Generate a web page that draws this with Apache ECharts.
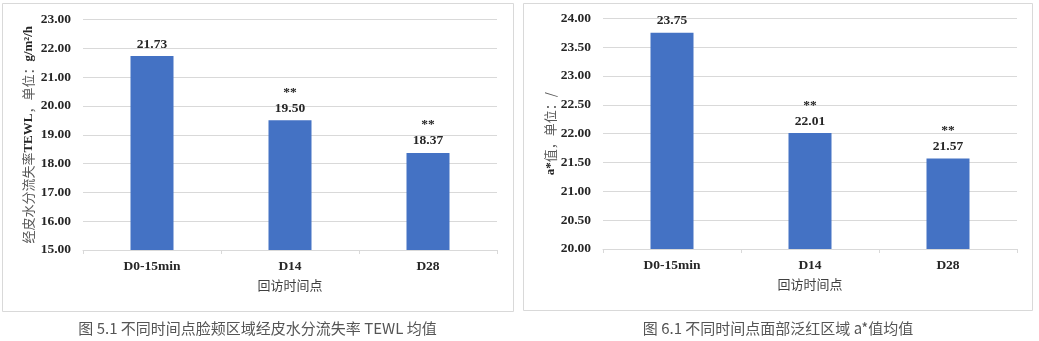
<!DOCTYPE html>
<html><head><meta charset="utf-8">
<script src="https://cdn.jsdelivr.net/npm/echarts@6/dist/echarts.min.js"></script>
<style>html,body{margin:0;padding:0;background:#fff}#c{width:1039px;height:341px}</style>
</head><body><div id="c"></div>
<script>
var categories = ['D0-15min', 'D14', 'D28'];
var tewlValues = [21.73, 19.50, 18.37];
var aValues = [23.75, 22.01, 21.57];
var marks = ['', '**', '**'];
var tewlTicks = {min: 15, max: 23, interval: 1};
var aTicks = {min: 20, max: 24, interval: 0.5};
var xName = '回访时间点';
var caption1 = '图 5.1 不同时间点脸颊区域经皮水分流失率 TEWL 均值';
var caption2 = '图 6.1 不同时间点面部泛红区域 a*值均值';

var serif = '"Liberation Serif", "Noto Sans CJK SC", serif';
var cjk = '"Noto Sans CJK SC", "Liberation Serif", serif';
var dark = '#262626';
var barColor = '#4472C4';
var gridCol = '#d9d9d9';

function labelFmt(p) {
  var m = marks[p.dataIndex];
  var v = p.value.toFixed(2);
  return m ? '{s|' + m + '}\n{v|' + v + '}' : '{v|' + v + '}';
}
var labelCfg = {
  show: true, position: 'top', distance: 4,
  formatter: labelFmt,
  rich: {
    s: {fontFamily: serif, fontWeight: 'bold', fontSize: 13.5, color: dark, lineHeight: 16},
    v: {fontFamily: serif, fontWeight: 'bold', fontSize: 13.5, color: dark, lineHeight: 16}
  }
};
function xAxis(gi) {
  return {
    type: 'category', gridIndex: gi, data: categories,
    axisLine: {lineStyle: {color: gridCol, width: 1}},
    axisTick: {show: true, length: 4, lineStyle: {color: gridCol}},
    axisLabel: {fontFamily: serif, fontWeight: 'bold', fontSize: 13.5, color: dark, margin: 10},
    name: xName, nameLocation: 'middle', nameGap: 29,
    nameTextStyle: {fontFamily: cjk, fontSize: 13, color: '#404040'}
  };
}
function yAxis(gi, t, name, gap) {
  return {
    type: 'value', gridIndex: gi, min: t.min, max: t.max, interval: t.interval,
    axisLine: {show: false}, axisTick: {show: false},
    splitLine: {lineStyle: {color: gridCol, width: 1}},
    axisLabel: {fontFamily: serif, fontWeight: 'bold', fontSize: 13.5, color: dark, margin: 12,
      formatter: function (v) { return v.toFixed(2); }},
    name: name, nameLocation: 'middle', nameGap: gap, nameRotate: 90,
    nameTextStyle: {
      rich: {
        c: {fontFamily: cjk, fontSize: 13, color: '#595959'},
        b: {fontFamily: serif, fontSize: 13, fontWeight: 'bold', color: dark}
      }
    }
  };
}

var chart = echarts.init(document.getElementById('c'), null, {renderer: 'canvas'});
chart.setOption({
  animation: false,
  backgroundColor: '#fff',
  grid: [
    {left: 83, right: 542, top: 19.5, bottom: 91},
    {left: 603, right: 22, top: 18.3, bottom: 92}
  ],
  xAxis: [xAxis(0), xAxis(1)],
  yAxis: [
    yAxis(0, tewlTicks, '{c|经皮水分流失率}{b|TEWL}{c|，单位：}{b|g/m²/h}', 48),
    yAxis(1, aTicks, '{b|a*}{c|值，单位：/}', 45)
  ],
  series: [
    {type: 'bar', xAxisIndex: 0, yAxisIndex: 0, data: tewlValues, barWidth: 43,
      itemStyle: {color: barColor}, label: labelCfg},
    {type: 'bar', xAxisIndex: 1, yAxisIndex: 1, data: aValues, barWidth: 43,
      itemStyle: {color: barColor}, label: labelCfg}
  ],
  graphic: [
    {type: 'rect', shape: {x: 2.5, y: 3.5, width: 511, height: 308},
      style: {fill: 'none', stroke: '#d9d9d9', lineWidth: 1}, z: -1},
    {type: 'rect', shape: {x: 523.5, y: 3.5, width: 509, height: 307},
      style: {fill: 'none', stroke: '#d9d9d9', lineWidth: 1}, z: -1},
    {type: 'text', x: 257.5, y: 328, style: {text: caption1, fontFamily: cjk, fontSize: 15,
      fill: '#555', align: 'center', verticalAlign: 'middle'}},
    {type: 'text', x: 778, y: 328, style: {text: caption2, fontFamily: cjk, fontSize: 15,
      fill: '#555', align: 'center', verticalAlign: 'middle'}}
  ]
});
</script></body></html>
